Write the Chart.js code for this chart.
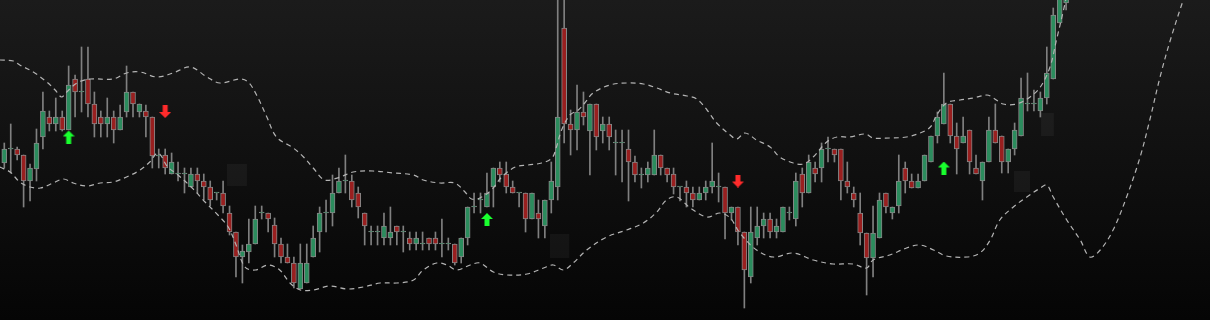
<!DOCTYPE html>
<html>
<head>
<meta charset="utf-8">
<script src="https://cdn.jsdelivr.net/npm/chart.js@4"></script>
<style>
  html, body { margin: 0; padding: 0; background: #000; }
  #chart { display: block; background: linear-gradient(to bottom, #1b1b1b, #050505); }
</style>
</head>
<body>
<canvas id="chart" width="1210" height="320"></canvas>
<script>
// candles, one per bar
var opens = [157,171,171,165,139,151,183,203,196,203,190,241,228,241,216,203,196,203,190,208,228,208,209,203,164,165,146,146,146,133,
  146,139,133,127,127,107,88,63,68,76,107,107,95,76,63,57,31,37,63,88,107,107,127,139,139,127,107,88,88,82,
  82,94,88,82,76,76,82,82,76,76,76,63,82,113,120,113,133,152,146,133,127,127,101,107,94,120,133,292,196,190,
  208,189,216,189,196,177,177,171,158,145,145,145,165,152,146,133,133,127,120,127,133,133,133,107,113,88,43,82,94,101,
  88,88,107,101,146,127,152,152,171,171,171,139,127,107,87,62,82,127,107,114,152,139,132,139,158,184,196,216,184,177,
  190,152,139,158,190,184,158,171,184,216,216,209,222,241,297,317]
var highs = [177,196,173,165,156,191,228,209,222,209,254,245,273,273,228,209,222,209,215,254,228,216,215,203,171,171,167,158,152,152,
  152,146,139,127,139,114,88,75,101,114,114,107,102,82,76,63,76,76,94,113,120,145,152,165,145,133,107,94,94,107,
  113,94,94,88,88,88,82,88,101,82,76,82,113,127,127,147,152,158,158,139,127,127,127,120,120,158,330,330,210,235,
  228,216,216,203,203,190,190,190,164,152,158,190,165,152,152,133,139,133,133,139,177,147,133,113,113,88,113,113,107,107,
  101,113,113,147,152,165,158,177,183,171,171,158,133,127,87,114,127,127,113,165,158,146,146,165,184,208,247,216,197,203,
  190,165,158,203,216,184,171,197,242,247,230,228,273,312,345,350]
var lows = [152,147,160,113,119,139,171,189,189,189,190,203,208,203,183,183,183,177,190,203,203,203,183,152,152,146,146,139,127,133,
  127,120,114,120,107,85,43,37,57,76,101,88,63,57,57,32,31,37,63,68,88,94,127,127,113,102,75,75,75,75,
  75,75,68,70,70,70,70,70,63,70,55,57,75,107,107,113,113,138,127,127,113,88,101,82,82,107,120,177,165,170,
  195,145,170,177,170,145,138,119,138,132,138,145,145,138,126,119,113,113,120,120,127,118,81,100,75,12,37,75,82,82,
  82,88,100,94,113,127,138,138,158,158,120,127,113,75,25,43,82,107,101,107,127,132,132,139,158,177,196,177,146,177,
  146,146,120,158,177,147,147,165,184,209,209,203,216,241,297,310]
var closes = [171,171,165,139,152,177,209,196,203,190,235,228,228,216,196,196,203,190,203,228,216,216,203,164,164,152,158,146,146,146,
  139,133,120,127,114,88,63,69,76,101,107,101,76,63,57,37,57,57,82,107,107,127,139,139,120,113,94,88,88,94,
  88,88,88,76,82,76,76,76,76,76,57,82,113,113,120,127,152,145,133,127,127,101,127,101,120,139,203,196,190,208,
  203,216,183,196,183,177,177,158,145,145,152,165,152,145,133,133,127,120,127,133,139,133,107,113,88,50,88,94,101,88,
  94,113,107,139,127,158,146,171,171,165,139,133,120,87,62,87,120,113,113,139,139,132,139,165,184,203,216,184,171,184,
  158,146,158,190,177,158,171,190,222,216,216,222,247,305,330,345]

// bollinger style bands (bar index, value)
var upperIdx = [-0.7,1.4,2.4,4.5,6.6,7.9,8.9,9.7,11.3,13.3,16.9,19.0,21.1,23.7,26.2,28.9,31.5,33.5,36.6,37.9,39.2,40.8,42.3,44.9,46.5,48.0,49.8,52.2,54.2,57.3,
  60.5,63.6,65.1,67.7,70.0,71.6,72.6,73.9,75.7,77.3,79.4,81.4,83.5,85.1,85.8,86.6,87.9,89.2,90.2,91.5,94.1,96.7,99.3,101.4,103.5,106.1,107.6,109.2,110.7,112.8,
  113.8,115.1,116.9,119.0,120.5,122.6,124.2,125.7,127.8,129.4,131.4,133.8,135.0,137.6,140.2,142.3,143.9,144.9,146.4,148.5,150.6,152.7,153.7,155.2,157.3,159.4,161.0,162.5,163.5,164.6,165.6]
var upperVal = [260,259,255,248,238,230,223,228,237,241,241,247,248,243,247,253,243,237,241,238,225,203,183,172,163,152,140,143,148,149,
  147,145,140,137,137,128,121,122,130,143,153,155,157,162,173,190,205,210,217,227,235,237,236,232,227,224,221,210,197,185,
  181,187,180,173,163,157,156,163,178,183,183,186,182,182,183,187,193,205,217,220,222,225,222,216,216,223,233,253,280,310,340]
var lowerIdx = [-0.7,0.9,2.4,4.0,5.6,7.6,9.2,10.7,12.8,14.9,16.9,19.0,21.1,22.6,23.9,25.4,27.0,29.2,31.2,33.2,34.8,35.9,37.4,39.0,41.0,42.8,44.4,46.0,48.0,50.6,
  53.2,55.8,58.4,61.0,63.6,65.1,67.2,68.8,70.3,72.4,73.9,76.0,78.1,81.2,83.8,85.3,86.9,88.4,90.5,93.6,96.7,99.3,101.4,102.9,104.5,106.6,109.2,111.2,112.8,114.3,
  116.9,119.5,122.6,125.7,128.8,131.9,134.0,135.0,137.6,140.2,142.3,144.4,146.4,149.6,151.6,153.2,154.7,156.8,158.9,161.0,162.0,163.0,165.1,167.2,168.7,170.3,172.3,174.4,176.5,178.0,
  179.6,181.2,183.2,184.3]
var lowerVal = [153,148,138,133,132,137,141,137,134,137,138,143,150,158,167,153,145,132,118,105,93,77,53,50,55,50,37,30,30,34,
  31,33,37,37,40,50,57,55,50,55,57,48,45,46,52,55,50,57,70,83,90,97,108,120,123,112,103,107,102,87,
  70,63,67,60,56,56,52,60,65,72,75,70,64,63,67,80,100,113,123,132,135,123,100,80,63,70,90,123,163,200,
  243,280,320,340]

// signal arrows
var buyIdx = [10, 75, 146]
var buyVal = [183, 100.5, 152]
var sellIdx = [25, 114]
var sellVal = [208.5, 139]

// shaded boxes
var boxFrom = [34.6, 84.8, 156.9, 161.1]
var boxTo = [37.7, 87.8, 159.4, 163.1]
var boxLow = [134, 62, 128, 184]
var boxHigh = [156, 86, 149, 207]

const GREEN = "#2b8c5d"
const RED = "#991f1f"
const EDGE = "#878787"
const BAND = "#b4b4b4"

const makeArrow = (up, color) => {
  var c = document.createElement("canvas")
  c.width = 12
  c.height = 13
  var g = c.getContext("2d")
  g.fillStyle = color
  g.beginPath()
  if (up) {
    g.moveTo(6, 0); g.lineTo(12, 6); g.lineTo(8.5, 6); g.lineTo(8.5, 13)
    g.lineTo(3.5, 13); g.lineTo(3.5, 6); g.lineTo(0, 6)
  } else {
    g.moveTo(6, 13); g.lineTo(12, 7); g.lineTo(8.5, 7); g.lineTo(8.5, 0)
    g.lineTo(3.5, 0); g.lineTo(3.5, 7); g.lineTo(0, 7)
  }
  g.closePath()
  g.fill()
  return c
}

var wicks = opens.map((o, i) => ({ x: i, y: [lows[i], highs[i]] }))
var bodies = opens.map((o, i) => ({ x: i, y: [o, closes[i]] }))
var bodyColors = opens.map((o, i) => closes[i] >= o ? GREEN : RED)

const boxPlugin = {
  id: "boxes",
  beforeDatasetsDraw: (chart) => {
    var ctx = chart.ctx
    var xs = chart.scales.x
    var ys = chart.scales.y
    ctx.save()
    ctx.fillStyle = "rgba(255,255,255,0.045)"
    for (var i = 0; i < boxFrom.length; i++) {
      var x0 = xs.getPixelForValue(boxFrom[i])
      var x1 = xs.getPixelForValue(boxTo[i])
      var y0 = ys.getPixelForValue(boxHigh[i])
      var y1 = ys.getPixelForValue(boxLow[i])
      ctx.fillRect(x0, y0, x1 - x0, y1 - y0)
    }
    ctx.restore()
  }
}

var chart = new Chart(document.getElementById("chart"), {
  type: "bar",
  data: {
    datasets: [
      {
        type: "scatter",
        data: buyIdx.map((x, i) => ({ x: x, y: buyVal[i] })),
        pointStyle: makeArrow(true, "#19ff2e"),
        order: 0
      },
      {
        type: "scatter",
        data: sellIdx.map((x, i) => ({ x: x, y: sellVal[i] })),
        pointStyle: makeArrow(false, "#ff2b2b"),
        order: 0
      },
      {
        type: "line",
        data: upperIdx.map((x, i) => ({ x: x, y: upperVal[i] })),
        borderColor: BAND,
        borderWidth: 1.2,
        borderDash: [5, 4],
        pointRadius: 0,
        tension: 0.35,
        order: 1
      },
      {
        type: "line",
        data: lowerIdx.map((x, i) => ({ x: x, y: lowerVal[i] })),
        borderColor: BAND,
        borderWidth: 1.2,
        borderDash: [5, 4],
        pointRadius: 0,
        tension: 0.35,
        order: 1
      },
      {
        data: bodies,
        backgroundColor: bodyColors,
        borderColor: EDGE,
        borderWidth: 1,
        borderSkipped: false,
        barThickness: 5,
        minBarLength: 1,
        grouped: false,
        order: 2
      },
      {
        data: wicks,
        backgroundColor: "#808080",
        borderWidth: 0,
        barThickness: 1,
        grouped: false,
        order: 3
      }
    ]
  },
  options: {
    responsive: false,
    devicePixelRatio: 1,
    animation: false,
    layout: { padding: 0, autoPadding: false },
    plugins: {
      legend: { display: false },
      tooltip: { enabled: false }
    },
    scales: {
      x: { type: "linear", min: -0.668, max: 187.36, offset: false, display: false },
      y: { min: 0, max: 320, display: false }
    }
  },
  plugins: [boxPlugin]
})
</script>
</body>
</html>
